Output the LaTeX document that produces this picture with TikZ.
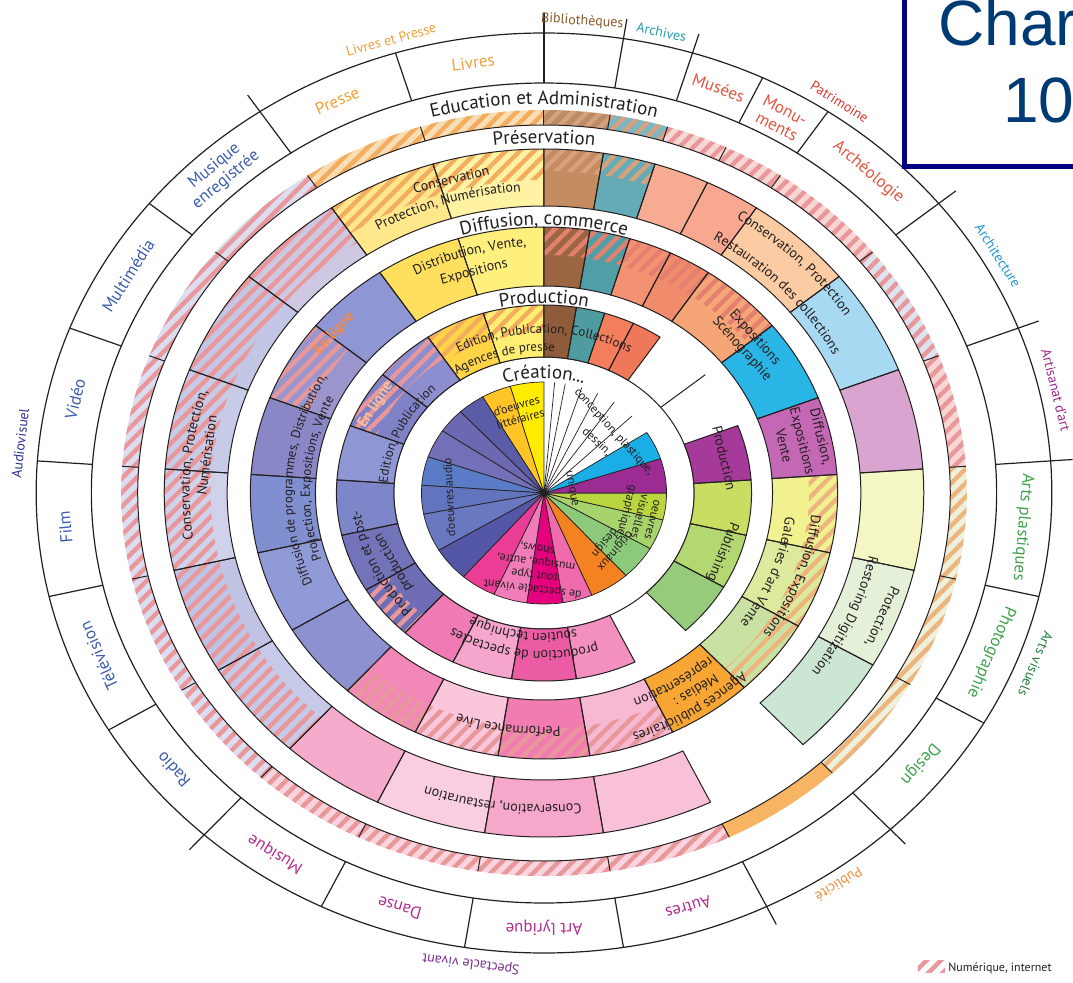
\documentclass[tikz,border=0pt]{standalone}
\usepackage{fontspec}
\setmainfont{PT Sans}
\newfontfamily\chartfont{Liberation Sans}
\usetikzlibrary{decorations.text,patterns.meta}
% pie colours
\definecolor{pYel}{HTML}{FFEC00}\definecolor{pGold}{HTML}{FFC526}
\definecolor{pB1}{HTML}{5A5CA8}\definecolor{pB2}{HTML}{6C68B2}\definecolor{pB3}{HTML}{7470B8}
\definecolor{pB4}{HTML}{5A7BC6}\definecolor{pB5}{HTML}{6374BE}\definecolor{pB6}{HTML}{6A78C2}
\definecolor{pB7}{HTML}{5357A6}\definecolor{pK1}{HTML}{EC3D96}\definecolor{pK2}{HTML}{F07DB9}
\definecolor{pK3}{HTML}{E5007E}\definecolor{pK4}{HTML}{F06BAD}\definecolor{pOr}{HTML}{F58220}
\definecolor{pG1}{HTML}{8DC97A}\definecolor{pG2}{HTML}{A6D36B}\definecolor{pG3}{HTML}{BAD63E}
\definecolor{pPu}{HTML}{9C2B93}\definecolor{pCy}{HTML}{1BAEE6}
% production ring
\definecolor{qLiv}{HTML}{FFEE72}\definecolor{qPre}{HTML}{FFD447}\definecolor{qBib}{HTML}{8E5B3B}
\definecolor{qArc}{HTML}{4E9C9F}\definecolor{qMus}{HTML}{F27E5C}\definecolor{qMon}{HTML}{F0785A}
\definecolor{qArt}{HTML}{A63A9A}\definecolor{qPla}{HTML}{C8DD62}\definecolor{qPho}{HTML}{B3D771}
\definecolor{qDes}{HTML}{96CB7C}\definecolor{qAut}{HTML}{F390C0}\definecolor{qLyr}{HTML}{EC5CA5}
\definecolor{qDan}{HTML}{F6A6CC}\definecolor{qMsq}{HTML}{EF7AB4}\definecolor{qLa}{HTML}{8C8ED0}
\definecolor{qLb}{HTML}{7F82C6}\definecolor{qLc}{HTML}{8E96D3}\definecolor{qLd}{HTML}{7C86C9}
\definecolor{qLe}{HTML}{7373BA}\definecolor{qLf}{HTML}{6F6DB5}
% diffusion ring
\definecolor{dLiv}{HTML}{FFF07E}\definecolor{dPre}{HTML}{FFE05E}\definecolor{dBib}{HTML}{9C6642}
\definecolor{dArc}{HTML}{509FA7}\definecolor{dMus}{HTML}{F29272}\definecolor{dMon}{HTML}{F08B6B}
\definecolor{dAro}{HTML}{F5A576}\definecolor{dAri}{HTML}{2AB5E7}\definecolor{dArt}{HTML}{C468B6}
\definecolor{dPla}{HTML}{F1F190}\definecolor{dPho}{HTML}{DDEA9E}\definecolor{dDes}{HTML}{C9E1A3}
\definecolor{dPub}{HTML}{F7A633}\definecolor{dAut}{HTML}{F8B8D3}\definecolor{dLyr}{HTML}{F27CB1}
\definecolor{dDan}{HTML}{F9C6DB}\definecolor{dMsq}{HTML}{F288B7}\definecolor{dLa}{HTML}{8E96D3}
\definecolor{dLb}{HTML}{9A95CD}\definecolor{dLc}{HTML}{8A87C6}\definecolor{dLd}{HTML}{7F8FD0}
\definecolor{dLe}{HTML}{909AD6}\definecolor{dLf}{HTML}{8D91CF}
% preservation ring
\definecolor{sLiv}{HTML}{FFF3A3}\definecolor{sPre}{HTML}{FFE88C}\definecolor{sBib}{HTML}{C48C60}
\definecolor{sArc}{HTML}{64ABB5}\definecolor{sMus}{HTML}{F8AB93}\definecolor{sMon}{HTML}{F8A890}
\definecolor{sAro}{HTML}{FBCBA3}\definecolor{sAri}{HTML}{A8D9F3}\definecolor{sArt}{HTML}{DAA4D1}
\definecolor{sPla}{HTML}{F4F6C4}\definecolor{sPho}{HTML}{E4F0D8}\definecolor{sDes}{HTML}{CCE6D4}
\definecolor{sAut}{HTML}{F8C1D9}\definecolor{sLyr}{HTML}{F5A8CA}\definecolor{sDan}{HTML}{F9CEE1}
\definecolor{sMsq}{HTML}{F5ACCC}\definecolor{sLa}{HTML}{CFC8E2}\definecolor{sLb}{HTML}{C3C6E5}
\definecolor{sLc}{HTML}{C8CBE8}\definecolor{sLd}{HTML}{D0D2EC}\definecolor{sLe}{HTML}{C0C3E4}
\definecolor{sLf}{HTML}{C6C9E7}
% band
\definecolor{bYel}{HTML}{F9DDB5}\definecolor{bBib}{HTML}{B98C66}\definecolor{bArc}{HTML}{7DB5C3}
\definecolor{bPnk}{HTML}{F8D6D4}\definecolor{bBlu}{HTML}{DDE4F0}\definecolor{bGrn}{HTML}{EEF0DC}
\definecolor{bOrg}{HTML}{F7B563}\definecolor{bPkB}{HTML}{F9D3DE}\definecolor{bLav}{HTML}{DCDDF0}
% hatches
\definecolor{hPnk}{HTML}{E8979B}\definecolor{hOrg}{HTML}{F3AD5E}\definecolor{hRed}{HTML}{E3806F}
\definecolor{hOrB}{HTML}{EDB57E}\definecolor{hBr}{HTML}{D6A27E}
% text colours
\definecolor{tOrg}{HTML}{F0A03C}\definecolor{tRed}{HTML}{E4553F}\definecolor{tGrn}{HTML}{3FA34D}
\definecolor{tMag}{HTML}{B32E8E}\definecolor{tBlu}{HTML}{3C5DAD}\definecolor{tBib}{HTML}{8B5A2B}
\definecolor{tArc}{HTML}{2A9AAA}\definecolor{tPat}{HTML}{D9392E}\definecolor{tAri}{HTML}{2196D3}
\definecolor{tArt}{HTML}{A0268F}\definecolor{tAvi}{HTML}{22803D}\definecolor{tPub}{HTML}{F08A35}
\definecolor{tSpv}{HTML}{7A2D8E}\definecolor{tAud}{HTML}{2E3192}\definecolor{tEn}{HTML}{F08A4B}
\definecolor{chartBlue}{HTML}{003A75}\definecolor{boxNavy}{HTML}{000080}
\definecolor{ink}{HTML}{231F20}

\newcommand\rsect[5]{\path[#5] (#1:#3) arc[start angle=#1,end angle=#2,radius=#3] -- (#2:#4) arc[start angle=#2,end angle=#1,radius=#4] -- cycle;}
\newcommand\atext[6]{\path[decorate,decoration={text along path,text align=center,text color=#5,text={|#4|#6}}] ({#1+#3}:#2) arc[start angle={#1+#3},end angle={#1-#3},radius=#2];}
% name, angle, radius, font, colour, text  (tangent text, tops outward)
\newcommand\rtext[6]{\node[font=#4,text=#5,inner sep=0pt,align=center,rotate={atan2(-cos(#2),1.104*sin(#2))}] (#1) at (#2:#3) {#6};}
\newcommand\fRing{\fontsize{9.5}{11}\selectfont}
\newcommand\fDom{\fontsize{8.5}{9}\selectfont}
\newcommand\fFam{\fontsize{7}{8}\selectfont}
\newcommand\fSec{\fontsize{7}{7.6}\selectfont}
\newcommand\fSecS{\fontsize{6.5}{7.5}\selectfont}
\newcommand\fEn{\fontsize{7.5}{8}\selectfont\bfseries}

\begin{document}
\begin{tikzpicture}[x=1pt,y=1pt,scale=0.5,
  hatchst/.style={pattern={Lines[angle=45,distance=5pt,line width=2.2pt]},pattern color=#1},
  secline/.style={draw=ink,line width=.5pt},
  domline/.style={draw=ink,line width=.6pt},
  pietext/.style={font=\fontsize{6}{6.8}\selectfont,align=center,inner sep=0pt,text=ink}]
\useasboundingbox (-544,-489) rectangle (529,493);
\begin{scope}[xscale=1.104]
% ---------- pie (Creation)
\foreach \a/\b/\c in {90/106/pYel,106/120/pGold,120/133/pB1,133/146/pB2,146/161/pB3,161/176/pB4,176/191/pB5,191/211/pB6,211/229/pB7,229/246/pK1,246/262/pK2,262/279/pK3,279/293/pK4,293/312/pOr,312/330/pG1,330/346/pG2,346/360/pG3,0/18/pPu,18/33/pCy}
  {\path[fill=\c,draw=ink,line width=.35pt] (0,0) -- (\a:111) arc[start angle=\a,end angle=\b,radius=111] -- cycle;}
\foreach \a in {44,55,64,72,80,85} \draw[ink,line width=.35pt] (0,0) -- (\a:111);
\fill[ink] (0,0) circle[radius=3];
\draw[secline] (0,0) circle[radius=136];
% ---------- production ring
\foreach \a/\b/\c in {90/107/qLiv,107/124/qPre,124/141/qLa,141/159/qLb,159/176/qLc,176/193/qLd,193/211/qLe,211/228/qLf,228/244/qMsq,244/261/qDan,261/279/qLyr,279/296/qAut,313/330/qDes,330/347/qPho,347/364/qPla,4/21/qArt,56/64.5/qMon,64.5/73/qMus,73/81/qArc,81/90/qBib}
  {\rsect{\a}{\b}{136}{188}{fill=\c}}
% ---------- diffusion ring
\foreach \a/\b/\c in {90/107/dLiv,107/124/dPre,124/141/dLa,141/159/dLb,159/176/dLc,176/193/dLd,193/211/dLe,211/228/dLf,228/244/dMsq,244/261/dDan,261/279/dLyr,279/296/dAut,296/313/dPub,313/330/dDes,330/347/dPho,347/364/dPla,4/21/dArt,21/39/dAri,39/56/dAro,56/64.5/dMon,64.5/73/dMus,73/81/dArc,81/90/dBib}
  {\rsect{\a}{\b}{207}{266}{fill=\c}}
% ---------- preservation ring
\foreach \a/\b/\c in {90/107/sLiv,107/124/sPre,124/141/sLa,141/159/sLb,159/176/sLc,176/193/sLd,193/211/sLe,211/228/sLf,228/244/sMsq,244/261/sDan,261/279/sLyr,279/296/sAut,313/330/sDes,330/347/sPho,347/364/sPla,4/21/sArt,21/39/sAri,39/56/sAro,56/64.5/sMon,64.5/73/sMus,73/81/sArc,81/90/sBib}
  {\rsect{\a}{\b}{287}{344}{fill=\c}}
% ---------- education band
\foreach \a/\b/\c in {90/124/bYel,124/228/bLav,228/296/bPkB,296/313/bOrg,313/364/bGrn,4/21/bPnk,21/39/bBlu,39/73/bPnk,73/81/bArc,81/90/bBib}
  {\rsect{\a}{\b}{368}{383}{fill=\c}}
% ---------- hatches (Numerique, internet)
\rsect{90}{124}{368}{383}{hatchst=hOrg}
\rsect{124}{296}{368}{383}{hatchst=hPnk}
\rsect{313}{364}{368}{383}{hatchst=hOrB}
\rsect{4}{73}{368}{383}{hatchst=hPnk}
\rsect{73}{90}{368}{383}{hatchst=hBr}
\rsect{90}{124}{313}{344}{hatchst=hOrg}
\rsect{73}{90}{322}{344}{hatchst=hBr}
\rsect{124}{228}{302}{344}{hatchst=hPnk}
\rsect{39}{90}{238}{266}{hatchst=hRed}
\rsect{141}{159}{228}{266}{hatchst=hPnk}
\rsect{313}{364}{240}{266}{hatchst=hOrB}
\rsect{228}{296}{236}{266}{hatchst=hPnk}
\rsect{90}{124}{160}{188}{hatchst=hOrg}
\rsect{124}{159}{162}{188}{hatchst=hPnk}
\rsect{211}{228}{164}{188}{hatchst=hPnk}
% ---------- sector outlines
\foreach \a/\b in {90/107,107/124,124/141,141/159,159/176,176/193,193/211,211/228,228/244,244/261,261/279,279/296,313/330,330/347,347/364,4/21,56/64.5,64.5/73,73/81,81/90}
  {\rsect{\a}{\b}{136}{188}{secline}}
\draw[secline] (39:136) -- (39:188);
\foreach \a/\b in {90/107,107/124,124/141,141/159,159/176,176/193,193/211,211/228,228/244,244/261,261/279,279/296,296/313,313/330,330/347,347/364,4/21,21/39,39/56,56/64.5,64.5/73,73/81,81/90}
  {\rsect{\a}{\b}{207}{266}{secline}}
\foreach \a/\b in {90/107,107/124,124/141,141/159,159/176,176/193,193/211,211/228,228/244,244/261,261/279,279/296,313/330,330/347,347/364,4/21,21/39,39/56,56/64.5,64.5/73,73/81,81/90}
  {\rsect{\a}{\b}{287}{344}{secline}}
\draw[secline] (0,0) circle[radius=368];
\foreach \a in {124,107,90,81,73,64.5,56,39,21,4,-13,-30,-47,-64,-81,-99,-116,-132,-149,-167,176,159,141}
  \draw[secline] (\a:368) -- (\a:383);
% ---------- domain ring
\draw[domline] (0,0) circle[radius=460];
\draw[domline] (0,0) circle[radius=410];
\foreach \a in {107,64.5,56,-13,-30,-81,-99,-116,-149,-167,176,159,141}
  \draw[domline] (\a:410) -- (\a:460);
\foreach \a in {124,90,81,73,39,21,4,-47,-64,-132}
  \draw[domline] (\a:410) -- (\a:480);
% ---------- ring titles
\atext{90}{115}{45}{\fRing}{ink}{Création...}
\atext{90}{190}{30}{\fRing}{ink}{Production}
\atext{90}{268}{30}{\fRing}{ink}{Diffusion, commerce}
\atext{90}{350}{20}{\fRing}{ink}{Préservation}
\atext{90}{389}{28}{\fRing}{ink}{Education et Administration}
% ---------- domain labels
\rtext{dPresse}{115.5}{435}{\fDom}{tOrg}{Presse}
\rtext{dLivres}{98.5}{435}{\fDom}{tOrg}{Livres}
\rtext{dMusees}{68.7}{435}{\fDom}{tRed}{Musées}
\rtext{dMonu}{60.2}{432}{\fDom}{tRed}{Monu-\\ments}
\rtext{dArcheo}{47.5}{435}{\fDom}{tRed}{Archéologie}
\rtext{dPlast}{-4.5}{435}{\fDom}{tGrn}{Arts plastiques}
\rtext{dPhoto}{-21.5}{435}{\fDom}{tGrn}{Photographie}
\rtext{dDesign}{-38.5}{435}{\fDom}{tGrn}{Design}
\rtext{dAutres}{-72.5}{435}{\fDom}{tMag}{Autres}
\rtext{dLyr}{-90}{435}{\fDom}{tMag}{Art lyrique}
\rtext{dDanse}{-107.5}{435}{\fDom}{tMag}{Danse}
\rtext{dMusique}{-124}{435}{\fDom}{tMag}{Musique}
\rtext{dRadio}{-140.5}{435}{\fDom}{tBlu}{Radio}
\rtext{dTele}{-158}{435}{\fDom}{tBlu}{Télévision}
\rtext{dFilm}{-175.5}{435}{\fDom}{tBlu}{Film}
\rtext{dVideo}{167.5}{435}{\fDom}{tBlu}{Vidéo}
\rtext{dMulti}{150}{435}{\fDom}{tBlu}{Multimédia}
\rtext{dMenr}{132.5}{434}{\fDom}{tBlu}{Musique\\enregistrée}
% ---------- family labels
\rtext{fLivres}{107}{474}{\fFam}{tOrg}{Livres et Presse}
\rtext{fBiblio}{85.8}{473}{\fFam}{tBib}{Bibliothèques}
\rtext{fArch}{77}{473}{\fFam}{tArc}{Archives}
\rtext{fPatr}{55.6}{474}{\fFam}{tPat}{Patrimoine}
\rtext{fArchi}{30}{475}{\fFam}{tAri}{Architecture}
\rtext{fArtis}{12.5}{475}{\fFam}{tArt}{Artisanat d'art}
\rtext{fAvis}{-21}{477}{\fFam}{tAvi}{Arts visuels}
\rtext{fPub}{-55.7}{474}{\fFam}{tPub}{Publicité}
\rtext{fSpv}{-98}{475}{\fFam}{tSpv}{Spectacle vivant}
\rtext{fAud}{174}{477}{\fFam}{tAud}{Audiovisuel}
% ---------- preservation texts
\rtext{sCons}{105}{325}{\fSec}{ink}{Conservation}
\atext{107}{302}{22}{\fSec}{ink}{Protection, Numérisation}
\atext{45}{325}{22}{\fSec}{ink}{Conservation, Protection}
\atext{43}{296}{25}{\fSec}{ink}{Restauration des collections}
\rtext{sProt}{-22}{330}{\fSec}{ink}{Protection,}
\atext{-24}{301}{20}{\fSec}{ink}{Restoring Digitization}
\atext{-97}{312}{22}{\fSec}{ink}{Conservation, restauration}
\atext{175}{321}{22}{\fSec}{ink}{Conservation, Protection,}
\rtext{sNum}{173}{308}{\fSec}{ink}{Numérisation}
% ---------- diffusion texts
\atext{106}{247}{22}{\fSec}{ink}{Distribution, Vente,}
\rtext{dExpo}{106}{230}{\fSec}{ink}{Expositions}
\rtext{dScen}{39}{238}{\fSec}{ink}{Expositions\\[1pt]Scénographie}
\rtext{dDiffA}{12.5}{240}{\fSec}{ink}{Diffusion,\\[2pt]Expositions\\[2pt]Vente}
\atext{-20}{243}{24}{\fSec}{ink}{Diffusion, Expositions}
\atext{-21}{220}{24}{\fSec}{ink}{Galeries d'art Vente}
\atext{-58}{253}{22}{\fSec}{ink}{Agences publicitaires}
\rtext{dMedias}{-55}{241}{\fSec}{ink}{Médias :}
\atext{-58}{221}{16}{\fSec}{ink}{représentation}
\atext{-98}{234}{18}{\fSec}{ink}{Performance Live}
\atext{176.5}{228}{38}{\fSecS}{ink}{Diffusion de programmes, Distribution,}
\atext{176}{212}{32}{\fSecS}{ink}{Projection, Expositions, Vente}
\rtext{dEnLigne}{140}{248}{\fEn}{tEn}{En ligne}
% ---------- production texts
\atext{90}{160}{45}{\fSecS}{ink}{Edition, Publication, Collections}
\atext{155}{142}{30}{\fSecS}{ink}{Edition, Publication}
\atext{105}{142}{25}{\fSecS}{ink}{Agences de presse}
\rtext{qProd}{12}{167}{\fSec}{ink}{Production}
\rtext{qPubl}{-20}{172}{\fSec}{ink}{Publishing}
\atext{-97}{158}{35}{\fSec}{ink}{production de spectacles}
\atext{-98}{140}{28}{\fSec}{ink}{soutien technique}
\atext{205}{167}{26}{\fSec}{ink}{Production et post-}
\rtext{qProd2}{207}{153}{\fSec}{ink}{production}
\rtext{qEnLigne}{150}{176}{\fEn}{tEn!55}{En ligne}
% ---------- pie texts
\node[pietext,rotate=16] (litt) at (106:84) {d'oeuvres\\littéraires};
\node[pietext,rotate=-48] (concep) at (44:88) {conception, plastique,};
\node[pietext,rotate=-44] (dessin) at (47:70) {dessin,};
\node[pietext,rotate=-80] (uniq) at (10:26) {unique};
\node[pietext,rotate=93] (audio) at (183:86) {d'oeuvres audio};
\node[pietext,rotate=-187] (spect) at (-96:76) {de spectacle vivant\\tout type\\musique, autre,\\shows,};
\node[pietext,rotate=-104] (visu) at (-15:88) {oeuvres\\visuelles\\graphiques};
\node[pietext,rotate=-130] (orig) at (-42:80) {originaux\\design};
\end{scope}
% ---------- chart box
\draw[line width=2.5pt,draw=boxNavy,fill=white] (361,327) rectangle (560,510);
\node[anchor=base west,inner sep=0pt,font=\chartfont\fontsize{32}{34}\selectfont,text=chartBlue] (charttitle) at (394,448) {Chart};
\node[anchor=base west,inner sep=0pt,font=\chartfont\fontsize{32}{34}\selectfont,text=chartBlue] (chartnum) at (459,371) {10};
% ---------- legend
\path[hatchst=hPnk] (374,-467) rectangle (401,-479);
\node[anchor=base west,inner sep=1pt,font=\fontsize{6}{7}\selectfont,text=ink] (legend) at (402,-478) {Numérique, internet};
\end{tikzpicture}
\end{document}
